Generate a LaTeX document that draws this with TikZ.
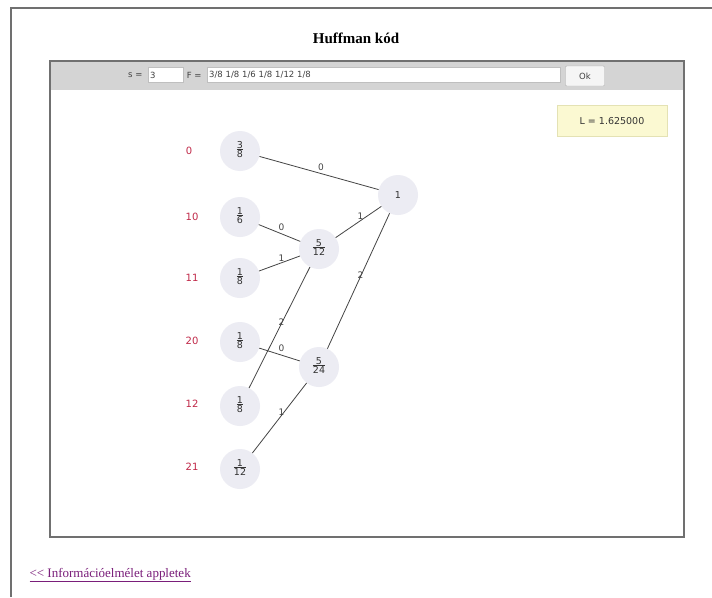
\documentclass[tikz,border=0pt]{standalone}
\usepackage{fontspec}
\setmainfont{Liberation Serif}
\newfontfamily\uifont{DejaVu Sans}
\definecolor{nodefill}{HTML}{ECECF3}
\definecolor{edgecol}{HTML}{444444}
\definecolor{codecol}{HTML}{C02848}
\definecolor{linkcol}{HTML}{7A1E7A}
\definecolor{barcol}{HTML}{D4D4D4}
\definecolor{framecol}{HTML}{707070}
\definecolor{lfill}{HTML}{FBF9D2}
\definecolor{lborder}{HTML}{E4E2B4}
\newcommand{\fr}[2]{\begin{tabular}{@{}c@{}}#1\\[-2.5pt]\hline\rule{0pt}{9pt}#2\end{tabular}}
\tikzset{
  prob/.style={circle, fill=nodefill, minimum size=40pt, inner sep=0pt, font=\uifont\fontsize{9.5}{10}\selectfont, text=black!80},
  codelab/.style={text=codecol, font=\uifont\fontsize{10}{11}\selectfont},
  edge/.style={draw=edgecol, line width=0.8pt},
  elab/.style={midway, above=1pt, xshift=2pt, inner sep=1pt, font=\uifont\fontsize{9}{9}\selectfont, text=edgecol},
  ui/.style={font=\uifont\fontsize{8.5}{9}\selectfont, text=black!75}
}
\begin{document}
\begin{tikzpicture}[x=1pt,y=-1pt]
\useasboundingbox[fill=white] (0,0) rectangle (712,597);
% outer frame (left and top)
\draw[framecol, line width=1.5pt] (11,597) -- (11,8) -- (712,8);
\node[font=\bfseries\fontsize{15}{16}\selectfont] (title) at (356,38) {Huffman kód};
% panel
\fill[barcol] (50,61) rectangle (684,90);
\draw[framecol, line width=1.6pt] (50,61) rectangle (684,537);
\node[ui, anchor=east] (slab) at (146,75) {s =};
\node[draw=black!25, fill=white, minimum width=35pt, minimum height=15pt, inner sep=1pt, anchor=west, ui, text width=31pt, align=left] (sbox) at (148,75) {3};
\node[ui, anchor=east] (flab) at (205,75) {F =};
\node[draw=black!25, fill=white, minimum width=353pt, minimum height=15pt, inner sep=1pt, anchor=west, ui, text width=349pt, align=left] (fbox) at (207,75) {3/8 1/8 1/6 1/8 1/12 1/8};
\node[draw=black!30, fill=black!4, rounded corners=1pt, minimum width=39pt, minimum height=20pt, ui] (ok) at (585,76) {Ok};
% L box
\node[draw=lborder, fill=lfill, minimum width=110pt, minimum height=31pt, font=\uifont\fontsize{9.5}{10}\selectfont, text=black!80] (lbox) at (612,121) {L = 1.625000};
% code labels
\node[codelab] (c0) at (189,151) {0};
\node[codelab] (c10) at (192,217) {10};
\node[codelab] (c11) at (192,278) {11};
\node[codelab] (c20) at (192,341) {20};
\node[codelab] (c12) at (192,404) {12};
\node[codelab] (c21) at (192,467) {21};
% probability nodes
\node[prob] (n38) at (240,151) {\fr{3}{8}};
\node[prob] (n16) at (240,217) {\fr{1}{6}};
\node[prob] (n18a) at (240,278) {\fr{1}{8}};
\node[prob] (n18b) at (240,342) {\fr{1}{8}};
\node[prob] (n18c) at (240,406) {\fr{1}{8}};
\node[prob] (n112) at (240,469) {\fr{1}{12}};
\node[prob] (n512) at (319,249) {\fr{5}{12}};
\node[prob] (n524) at (319,367) {\fr{5}{24}};
\node[prob] (n1) at (398,195) {1};
% edges
\draw[edge] (n38) -- node[elab]{0} (n1);
\draw[edge] (n16) -- node[elab]{0} (n512);
\draw[edge] (n18a) -- node[elab]{1} (n512);
\draw[edge] (n512) -- node[elab]{1} (n1);
\draw[edge] (n1) -- node[elab]{2} (n524);
\draw[edge] (n512) -- node[elab]{2} (n18c);
\draw[edge] (n18b) -- node[elab]{0} (n524);
\draw[edge] (n112) -- node[elab]{1} (n524);
% link
\node[anchor=west, text=linkcol, font=\fontsize{13}{14}\selectfont] (link) at (26,575) {\underline{\textless{}\textless{} Információelmélet appletek}};
\end{tikzpicture}
\end{document}
